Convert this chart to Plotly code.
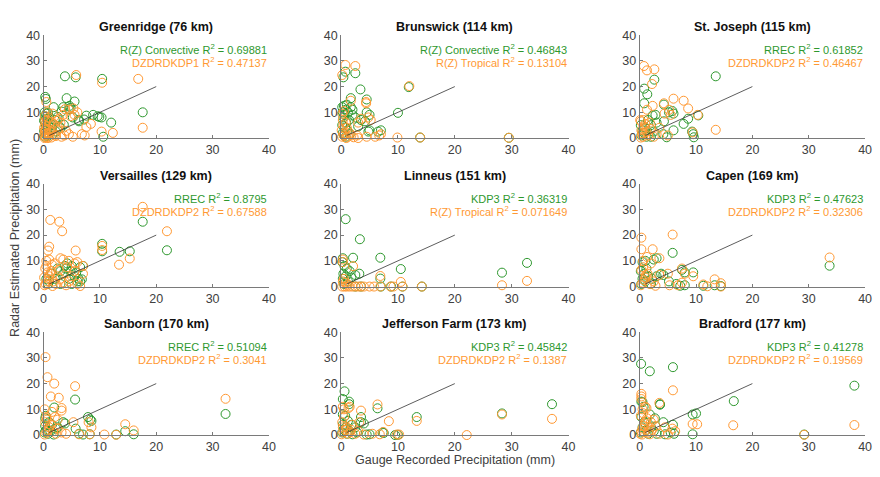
import plotly.graph_objects as go

# Station panels: name, green-series label, orange-series label, R^2 values
stations = ["Greenridge (76 km)", "Brunswick (114 km)", "St. Joseph (115 km)",
            "Versailles (129 km)", "Linneus (151 km)", "Capen (169 km)",
            "Sanborn (170 km)", "Jefferson Farm (173 km)", "Bradford (177 km)"]
green_methods = ["R(Z) Convective", "R(Z) Convective", "RREC",
                 "RREC", "KDP3", "KDP3",
                 "RREC", "KDP3", "KDP3"]
green_r2 = ["0.69881", "0.46843", "0.61852", "0.8795", "0.36319", "0.47623",
            "0.51094", "0.45842", "0.41278"]
orange_methods = ["DZDRDKDP1", "R(Z) Tropical", "DZDRDKDP2",
                  "DZDRDKDP2", "R(Z) Tropical", "DZDRDKDP2",
                  "DZDRDKDP2", "DZDRDKDP2", "DZDRDKDP2"]
orange_r2 = ["0.47137", "0.13104", "0.46467", "0.67588", "0.071649", "0.32306",
             "0.3041", "0.1387", "0.19569"]

# 1:1 reference line (mm)
one_to_one = [1, 20]
tick_vals = [0, 10, 20, 30, 40]

# (gauge mm, radar mm) pairs per station
greenridge_g = [(3.8, 24.0), (5.7, 23.6), (10.4, 23.0), (0.3, 16.0), (0.4, 15.2), (4.1, 15.5),
                (5.5, 14.2), (17.6, 10.0), (12.0, 6.0), (9.6, 8.5), (8.8, 9.0), (7.6, 8.7),
                (10.3, 8.0), (7.2, 7.2), (6.3, 6.5), (10.6, 0.5), (4.5, 11.2), (3.5, 12.0),
                (4.6, 12.5), (3.2, 10.3), (1.8, 12.0), (0.2, 10.0), (0.5, 9.5), (0.8, 9.8),
                (0.3, 8.5), (0.6, 7.5), (1.0, 8.0), (0.2, 6.5), (0.4, 5.5), (0.9, 6.0),
                (1.3, 5.5), (2.0, 7.0), (2.5, 8.2), (1.5, 4.0), (0.7, 3.5), (0.1, 2.8),
                (0.3, 2.0), (1.2, 3.0), (2.8, 4.5), (3.0, 3.8), (5.2, 8.0), (0.5, 1.0),
                (0.2, 0.5), (0.8, 0.8), (1.6, 1.5), (2.2, 2.5), (4.8, 11.8), (3.6, 5.2),
                (0.4, 4.5), (0.1, 6.8), (6.2, 7.0), (9.9, 8.2)]
greenridge_o = [(5.8, 24.5), (10.4, 21.5), (16.8, 23.0), (17.6, 4.0), (12.3, 2.0), (10.3, 2.5),
                (8.4, 5.5), (7.6, 4.3), (7.3, 1.0), (6.8, 1.5), (5.2, 0.5), (4.5, 1.5),
                (4.5, 11.0), (3.8, 11.2), (5.3, 11.5), (0.5, 14.0), (0.2, 0.0), (0.4, 0.3),
                (0.1, 1.0), (0.8, 2.0), (1.0, 0.5), (1.5, 3.0), (2.0, 1.0), (2.5, 4.5),
                (3.0, 6.0), (3.5, 9.0), (0.3, 5.0), (0.6, 7.0), (0.2, 8.5), (1.2, 2.5),
                (1.8, 5.5), (2.2, 0.8), (2.8, 7.5), (0.4, 3.5), (0.7, 10.0), (0.1, 4.0),
                (0.3, 6.5), (0.9, 8.0), (1.4, 0.2), (4.0, 2.8), (4.8, 8.5), (3.2, 0.5),
                (2.4, 6.8), (1.6, 9.5), (0.5, 1.8), (0.2, 2.2), (6.0, 10.0), (5.5, 9.0),
                (3.7, 1.0), (0.8, 0.0), (0.3, 3.0), (0.6, 4.5), (1.1, 6.2), (2.6, 3.2)]

brunswick_g = [(0.4, 23.6), (0.75, 25.8), (2.5, 25.2), (3.4, 18.9), (4.5, 15.0), (1.7, 15.5),
               (11.9, 19.8), (10.0, 9.8), (4.5, 10.0), (5.0, 9.0), (3.5, 7.0), (2.0, 9.0),
               (2.5, 8.0), (6.5, 2.5), (7.0, 3.0), (4.8, 2.5), (5.0, 3.0), (0.2, 12.0),
               (0.5, 12.5), (0.8, 11.0), (1.0, 13.0), (0.3, 10.0), (0.6, 9.0), (1.2, 10.0),
               (0.4, 8.0), (0.9, 6.0), (1.4, 7.0), (0.2, 5.0), (0.7, 4.0), (1.1, 3.0),
               (0.3, 2.0), (0.5, 1.0), (1.5, 1.5), (0.8, 0.5), (2.0, 11.0), (1.7, 12.0),
               (13.9, 0.2), (29.5, 0.1), (3.0, 4.5), (4.2, 6.5)]
brunswick_o = [(0.75, 28.4), (2.5, 28.0), (0.2, 24.5), (12.0, 20.2), (4.4, 14.0), (4.4, 13.5),
               (1.7, 14.5), (3.5, 7.5), (4.8, 8.0), (5.2, 7.0), (3.0, 6.0), (2.8, 1.0),
               (3.0, 0.0), (4.5, 0.5), (6.7, 1.0), (7.0, 1.5), (6.0, 0.5), (9.9, 0.2),
               (13.9, 0.2), (29.5, 0.1), (0.2, 0.5), (0.5, 1.0), (0.1, 3.0), (0.4, 5.0),
               (0.3, 7.0), (0.6, 2.0), (0.9, 0.0), (1.2, 0.5), (1.5, 2.0), (0.2, 9.5),
               (0.5, 10.5), (1.0, 4.0), (1.8, 1.0), (2.2, 0.3), (0.8, 6.0)]

stjoseph_g = [(13.5, 24.0), (2.6, 22.7), (0.8, 19.2), (1.35, 17.0), (0.8, 13.5), (4.3, 13.0),
              (5.8, 10.5), (5.2, 10.0), (6.0, 9.5), (2.3, 8.8), (2.8, 9.0), (1.5, 7.0),
              (2.0, 5.0), (3.0, 6.0), (7.8, 5.5), (8.6, 7.5), (10.4, 8.8), (9.5, 1.5),
              (9.3, 2.5), (9.6, 0.3), (4.8, 0.3), (6.0, 3.0), (4.3, 6.5), (4.2, 1.5),
              (0.3, 1.0), (0.5, 3.0), (0.8, 2.0), (1.0, 4.0), (1.2, 0.5), (0.2, 5.0),
              (1.6, 1.5), (2.5, 2.5), (2.0, 0.5)]
stjoseph_o = [(0.76, 28.0), (2.6, 26.7), (1.3, 26.3), (2.2, 21.0), (2.3, 12.5), (1.3, 11.0),
              (0.7, 7.0), (0.2, 6.5), (4.3, 13.5), (5.2, 11.0), (6.0, 15.3), (5.5, 9.0),
              (7.8, 14.5), (8.6, 11.5), (10.3, 9.0), (13.5, 3.2), (9.4, 2.2), (5.0, 1.0),
              (3.5, 4.0), (3.0, 1.5), (2.5, 0.5), (0.2, 0.2), (0.5, 1.5), (0.3, 3.0),
              (0.8, 4.5), (1.0, 5.5), (1.2, 2.5), (1.5, 1.0), (0.1, 7.0), (0.6, 0.5),
              (2.0, 3.5), (1.8, 6.0), (0.4, 2.0), (4.4, 9.5)]

versailles_g = [(17.6, 25.2), (21.9, 14.1), (10.4, 16.6), (10.4, 13.7), (13.5, 13.5), (15.3, 13.7),
                (5.0, 8.0), (6.5, 7.5), (4.0, 7.0), (3.0, 6.0), (3.5, 5.0), (5.5, 4.0),
                (4.5, 3.0), (6.0, 2.0), (7.0, 8.0), (2.0, 3.0), (1.0, 2.0), (3.0, 1.0),
                (5.0, 1.0), (6.2, 3.0), (4.8, 6.0), (2.5, 7.0), (1.5, 5.0), (0.5, 3.0),
                (0.8, 1.0), (3.8, 8.0), (4.2, 9.0), (6.5, 2.0), (6.8, 2.8), (5.8, 5.5)]
versailles_o = [(17.6, 31.0), (21.9, 21.5), (1.2, 25.9), (2.8, 25.2), (3.3, 21.5), (1.0, 15.5),
                (0.8, 14.0), (5.7, 14.0), (10.4, 15.8), (10.4, 14.2), (13.4, 8.5), (15.3, 10.9),
                (0.5, 10.0), (1.0, 10.5), (3.0, 11.0), (3.5, 10.5), (4.5, 10.0), (6.0, 9.5),
                (7.0, 8.0), (5.5, 9.0), (2.0, 9.0), (1.5, 8.5), (0.2, 0.5), (0.4, 1.0),
                (0.6, 2.0), (0.8, 3.0), (1.0, 4.0), (1.2, 5.0), (1.4, 6.0), (0.3, 7.0),
                (0.5, 8.0), (1.8, 2.0), (2.2, 1.0), (2.5, 4.0), (3.0, 3.0), (3.5, 1.5),
                (4.0, 0.5), (4.5, 2.0), (5.0, 4.0), (5.5, 6.0), (6.0, 1.0), (6.5, 0.2),
                (7.0, 5.0), (0.1, 3.5), (0.7, 5.5), (1.6, 0.2), (2.7, 6.5), (4.2, 7.5)]

linneus_g = [(0.8, 26.2), (3.3, 18.4), (2.1, 11.2), (6.9, 11.2), (0.3, 11.0), (0.2, 9.5),
             (10.5, 6.8), (28.3, 5.4), (32.7, 9.2), (6.9, 3.1), (3.2, 5.0), (2.5, 4.5),
             (1.8, 3.5), (1.5, 6.0), (1.0, 7.0), (0.6, 8.0), (0.4, 5.0), (0.8, 4.0),
             (1.2, 2.0), (0.3, 3.0), (0.5, 1.0), (2.5, 0.0), (3.5, 0.0), (7.0, 0.0),
             (8.8, 0.0), (10.8, 0.0), (14.2, 0.0)]
linneus_o = [(0.3, 10.5), (0.3, 9.5), (2.1, 7.9), (6.9, 4.1), (10.5, 1.8), (28.3, 0.5),
             (32.7, 2.2), (0.2, 0.0), (0.6, 0.0), (1.0, 0.0), (1.5, 0.0), (2.0, 0.0),
             (2.5, 0.0), (3.0, 0.0), (3.5, 0.0), (4.0, 0.0), (5.0, 0.0), (5.8, 0.0),
             (6.9, 0.0), (8.7, 0.0), (9.2, 0.0), (10.8, 0.0), (14.2, 0.0), (0.5, 3.0),
             (0.8, 1.5), (1.2, 0.8), (0.3, 2.0)]

capen_g = [(5.85, 13.1), (2.5, 10.5), (3.0, 11.0), (0.5, 9.5), (1.0, 10.0), (33.7, 8.1),
           (7.5, 6.5), (8.0, 5.5), (9.5, 5.5), (3.8, 5.0), (4.2, 4.5), (3.0, 4.0),
           (5.2, 2.0), (7.2, 0.3), (8.0, 0.5), (11.3, 0.3), (13.3, 0.5), (14.4, 0.2),
           (6.5, 1.0), (0.3, 1.0), (0.5, 3.0), (0.8, 5.0), (1.0, 2.0), (1.5, 4.0),
           (2.0, 1.0), (0.2, 6.0), (1.2, 7.0), (2.2, 3.0)]
capen_o = [(0.3, 19.0), (5.85, 20.2), (0.3, 14.5), (2.3, 14.5), (1.3, 11.5), (3.5, 11.0),
           (0.6, 10.0), (2.0, 9.0), (33.7, 11.3), (7.5, 7.0), (8.0, 5.0), (9.5, 4.0),
           (5.0, 5.0), (3.5, 4.5), (13.3, 2.8), (14.4, 1.3), (11.3, 0.8), (12.0, 0.1),
           (7.5, 1.5), (6.8, 0.5), (5.3, 0.5), (0.2, 0.5), (0.5, 1.5), (0.8, 2.5),
           (1.0, 3.5), (1.4, 5.0), (0.3, 6.5), (1.8, 1.0), (2.5, 2.0), (2.8, 0.3),
           (0.6, 7.5), (1.1, 4.5), (14.4, 0.0)]

sanborn_g = [(5.6, 13.8), (1.9, 10.7), (32.3, 8.2), (7.9, 7.0), (8.3, 6.0), (8.5, 5.5),
             (0.4, 7.5), (0.3, 6.5), (1.0, 5.0), (1.5, 4.0), (3.5, 5.0), (3.8, 4.5),
             (2.5, 3.0), (5.7, 2.5), (6.3, 0.5), (7.0, 0.2), (8.2, 0.3), (12.9, 0.2),
             (14.5, 1.5), (16.0, 0.3), (0.2, 1.0), (0.5, 2.0), (0.8, 0.5), (1.2, 1.5),
             (1.8, 0.2), (2.2, 2.5), (0.3, 3.5)]
sanborn_o = [(0.35, 30.3), (0.7, 22.5), (1.9, 20.0), (5.6, 19.0), (1.3, 15.0), (2.7, 14.5),
             (0.2, 10.0), (3.2, 10.5), (3.2, 9.5), (1.5, 9.0), (0.5, 7.0), (32.3, 14.1),
             (5.3, 5.0), (8.0, 5.0), (8.5, 3.0), (2.0, 7.0), (2.5, 6.0), (14.5, 4.2),
             (16.0, 1.8), (10.8, 0.2), (12.9, 0.1), (8.2, 0.3), (6.3, 0.3), (4.0, 0.5),
             (3.2, 1.0), (0.2, 0.2), (0.5, 1.0), (0.8, 2.0), (1.0, 3.0), (1.3, 4.0),
             (0.3, 5.0), (1.7, 1.5), (2.2, 0.5), (2.5, 2.5), (0.6, 6.0)]

jefferson_g = [(0.6, 17.0), (0.3, 14.0), (1.4, 13.0), (1.4, 12.0), (0.3, 8.0), (0.7, 7.5),
               (6.4, 10.4), (13.3, 7.0), (28.3, 8.4), (37.1, 12.0), (3.5, 7.0), (3.5, 5.0),
               (4.0, 4.5), (1.8, 4.0), (2.5, 3.0), (1.2, 5.5), (0.8, 3.0), (7.3, 1.0),
               (7.5, 0.8), (5.0, 0.3), (9.5, 0.0), (10.0, 0.1), (4.5, 0.2), (0.2, 1.0),
               (0.5, 2.0), (1.0, 0.5), (1.5, 1.5), (2.0, 0.3), (0.3, 4.0), (2.8, 1.0)]
jefferson_o = [(0.3, 11.0), (1.5, 11.0), (1.3, 10.5), (0.5, 10.0), (6.4, 11.9), (3.5, 9.5),
               (3.2, 5.0), (8.4, 5.4), (13.3, 5.5), (28.3, 8.0), (37.1, 6.3), (22.1, 0.0),
               (0.2, 5.0), (0.5, 7.0), (1.0, 3.0), (1.8, 2.0), (2.5, 0.5), (4.0, 0.2),
               (5.5, 0.5), (6.8, 0.3), (7.4, 1.2), (9.8, 0.2), (10.2, 0.2), (3.0, 1.5),
               (0.1, 0.3), (0.4, 1.0), (0.7, 2.0), (1.2, 0.5), (1.6, 1.2), (0.3, 3.0),
               (2.0, 4.0)]

bradford_g = [(0.25, 27.7), (1.8, 24.8), (5.9, 26.4), (38.1, 19.2), (16.7, 13.2), (0.3, 13.0),
              (0.5, 12.8), (3.6, 12.0), (3.6, 11.8), (9.4, 8.0), (10.0, 8.4), (1.8, 8.0),
              (2.7, 6.5), (4.2, 5.0), (5.9, 4.0), (0.7, 11.0), (29.2, 0.2), (9.4, 0.3),
              (6.1, 0.5), (5.5, 1.0), (4.5, 0.3), (3.0, 0.5), (0.2, 1.0), (0.5, 3.0),
              (0.8, 5.0), (1.2, 2.0), (1.5, 0.5), (0.3, 7.0), (2.0, 3.0), (2.5, 1.5)]
bradford_o = [(0.3, 16.0), (0.3, 15.0), (0.3, 14.0), (5.9, 17.4), (3.5, 12.5), (1.0, 11.0),
              (0.5, 10.0), (1.2, 10.5), (9.4, 4.3), (10.2, 4.2), (16.6, 3.8), (38.1, 3.9),
              (29.2, 0.1), (2.5, 6.0), (2.0, 5.0), (4.5, 3.0), (5.8, 2.5), (6.3, 1.5),
              (3.5, 0.5), (5.0, 0.2), (0.1, 0.5), (0.3, 1.5), (0.5, 2.5), (0.7, 3.5),
              (0.9, 4.5), (1.1, 5.5), (1.3, 6.5), (0.2, 7.5), (0.6, 8.5), (1.5, 1.0),
              (1.8, 0.3), (2.2, 2.0), (0.4, 0.2), (0.8, 1.2), (2.8, 3.5), (1.6, 3.0)]

green_sets = [greenridge_g, brunswick_g, stjoseph_g, versailles_g, linneus_g,
              capen_g, sanborn_g, jefferson_g, bradford_g]
orange_sets = [greenridge_o, brunswick_o, stjoseph_o, versailles_o, linneus_o,
               capen_o, sanborn_o, jefferson_o, bradford_o]

GREEN = "#2e982e"
ORANGE = "#ff9933"
AXIS_GRAY = "#7a7a7a"
TEXT_GRAY = "#404040"
FONT = "Liberation Sans, Arial, sans-serif"

W, H = 880, 477
col_px = [(41, 269), (342, 572), (644, 872)]
row_px = [(29, 135), (182, 288), (335, 441)]

fig = go.Figure()
annotations = []
layout_axes = {}

for i, name in enumerate(stations):
    r, c = divmod(i, 3)
    n = "" if i == 0 else str(i + 1)
    xa, ya = "x" + n, "y" + n
    x0, x1 = col_px[c]
    top, bot = row_px[r]
    xdom = [x0 / W, x1 / W]
    ydom = [1 - bot / H, 1 - top / H]

    g = green_sets[i]
    o = orange_sets[i]
    fig.add_trace(go.Scatter(
        x=[p[0] for p in g], y=[p[1] for p in g], mode="markers",
        marker=dict(symbol="circle-open", size=9, color=GREEN, line=dict(width=1)),
        xaxis=xa, yaxis=ya, showlegend=False, cliponaxis=False))
    fig.add_trace(go.Scatter(
        x=[p[0] for p in o], y=[p[1] for p in o], mode="markers",
        marker=dict(symbol="circle-open", size=9, color=ORANGE, line=dict(width=1)),
        xaxis=xa, yaxis=ya, showlegend=False, cliponaxis=False))
    fig.add_trace(go.Scatter(
        x=one_to_one, y=one_to_one, mode="lines",
        line=dict(color="#333333", width=0.8),
        xaxis=xa, yaxis=ya, showlegend=False))

    common = dict(range=[0, 40], tickvals=tick_vals, showgrid=False, zeroline=False,
                  showline=True, linecolor=AXIS_GRAY, linewidth=1,
                  ticks="inside", ticklen=3, tickcolor=AXIS_GRAY,
                  tickfont=dict(family=FONT, size=12.5, color=TEXT_GRAY))
    layout_axes["xaxis" + n] = dict(domain=xdom, anchor=ya, **common)
    layout_axes["yaxis" + n] = dict(domain=ydom, anchor=xa, **common)

    annotations.append(dict(
        text="<b>%s</b>" % name, xref="paper", yref="paper",
        x=(xdom[0] + xdom[1]) / 2, y=ydom[1] + 8 / H, xanchor="center", yanchor="middle",
        showarrow=False, font=dict(family=FONT, size=12.5, color="#111111")))
    annotations.append(dict(
        text="%s R<sup>2</sup> = %s" % (green_methods[i], green_r2[i]),
        xref=xa, yref=ya, x=40, y=34.5, xanchor="right", yanchor="middle",
        showarrow=False, font=dict(family=FONT, size=11, color=GREEN)))
    annotations.append(dict(
        text="%s R<sup>2</sup> = %s" % (orange_methods[i], orange_r2[i]),
        xref=xa, yref=ya, x=40, y=29.5, xanchor="right", yanchor="middle",
        showarrow=False, font=dict(family=FONT, size=11, color=ORANGE)))

annotations.append(dict(
    text="Gauge Recorded Precipitation (mm)", xref="paper", yref="paper",
    x=(col_px[1][0] + col_px[1][1]) / 2 / W, y=1 - 467 / H,
    xanchor="center", yanchor="middle", showarrow=False,
    font=dict(family=FONT, size=12.5, color=TEXT_GRAY)))
annotations.append(dict(
    text="Radar Estimated Precipitation (mm)", xref="paper", yref="paper",
    x=12 / W, y=1 - 238 / H, textangle=-90,
    xanchor="center", yanchor="middle", showarrow=False,
    font=dict(family=FONT, size=12.5, color=TEXT_GRAY)))

fig.update_layout(
    width=W, height=H, margin=dict(l=0, r=0, t=0, b=0),
    plot_bgcolor="white", paper_bgcolor="white",
    annotations=annotations, **layout_axes)

fig.write_html("out.html")
